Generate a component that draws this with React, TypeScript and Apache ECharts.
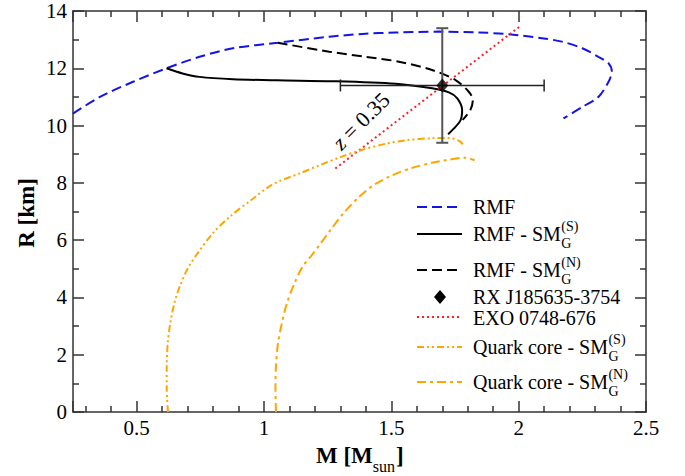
import React, { useEffect, useRef } from 'react';
import * as echarts from 'echarts';

const FONT = 'Liberation Serif';

// M [Msun], R [km]
const rmf = [[0.25, 10.42], [0.356, 11.0], [0.486, 11.53], [0.617, 12.0], [0.747, 12.4], [0.878, 12.7], [1.054, 12.89], [1.256, 13.1], [1.387, 13.2], [1.517, 13.25], [1.687, 13.28], [1.844, 13.25], [1.961, 13.19], [2.091, 13.05], [2.17, 12.93], [2.25, 12.7], [2.313, 12.4], [2.353, 12.17], [2.366, 11.88], [2.353, 11.53], [2.313, 11.0], [2.25, 10.65], [2.176, 10.25]];
const rmfSMS = [[0.617, 12.0], [0.68, 11.82], [0.747, 11.7], [0.878, 11.62], [1.05, 11.58], [1.27, 11.55], [1.517, 11.46], [1.66, 11.3], [1.726, 11.16], [1.759, 10.95], [1.778, 10.54], [1.772, 10.19], [1.746, 9.9], [1.723, 9.7]];
const rmfSMN = [[1.054, 12.89], [1.256, 12.58], [1.4, 12.4], [1.53, 12.23], [1.66, 11.94], [1.752, 11.59], [1.804, 11.18], [1.82, 10.89], [1.81, 10.54], [1.78, 10.2]];
const exo = [[1.28, 8.5], [2.01, 13.5]];
const quarkS = [[0.623, 0.0], [0.618, 0.8], [0.618, 1.6], [0.622, 2.4], [0.632, 3.1], [0.648, 3.8], [0.67, 4.4], [0.7, 5.0], [0.74, 5.55], [0.8, 6.25], [0.87, 6.85], [0.95, 7.4], [1.034, 7.95], [1.14, 8.33], [1.22, 8.62], [1.3, 8.9], [1.38, 9.14], [1.48, 9.37], [1.56, 9.49], [1.66, 9.56], [1.726, 9.57], [1.765, 9.47], [1.785, 9.31]];
const quarkN = [[1.047, 0.0], [1.045, 0.8], [1.047, 1.6], [1.055, 2.4], [1.07, 3.1], [1.09, 3.8], [1.12, 4.5], [1.15, 5.05], [1.19, 5.5], [1.217, 5.82], [1.265, 6.4], [1.315, 6.97], [1.37, 7.48], [1.43, 7.92], [1.5, 8.25], [1.58, 8.52], [1.66, 8.7], [1.713, 8.79], [1.791, 8.88], [1.827, 8.79]];
// RX J185635-3754: mass, radius, mass error, radius error
const rxPoint = [[1.7, 11.4, 0.4, 2.0]];

const BLUE = '#1414e6';
const ORANGE = '#ffa500';
const RED = '#ff2020';
const BLACK = '#000000';

const dashRMF = [10, 5];
const dashN = [10, 5];
const dashDotDot = [7, 3, 2, 3, 2, 3];
const dashDot = [9, 4, 3, 4];
const dotted = [2, 3];

function measure(text: string, size: number, weight = 'normal') {
  const c = document.createElement('canvas').getContext('2d');
  if (!c) return text.length * size * 0.5;
  c.font = `${weight} ${size}px "${FONT}", serif`;
  return c.measureText(text).width;
}

export default function App() {
  const ref = useRef<HTMLDivElement>(null);
  useEffect(() => {
    document.body.style.margin = '0';
    const chart = echarts.init(ref.current!, null, { renderer: 'svg' });

    const lineSeries = (name: string, data: number[][], color: string, type: any, width = 2, smooth: any = 0.3) => ({
      name,
      type: 'line',
      data,
      showSymbol: false,
      smooth,
      lineStyle: { color, width, type },
      z: 2,
    });

    const axisCommon = {
      type: 'value',
      axisLine: { show: true, onZero: false, lineStyle: { color: '#333', width: 1.5 } },
      splitLine: { show: false },
    };
    const tickStyle = { color: '#333', width: 1.5 };

    const legendX1 = 417;
    const legendX2 = 462;
    const textX = 473;
    const legSize = 20;
    const legRows = [207, 234, 270, 297, 318, 347, 382];

    const txt = (x: number, y: number, text: string, size: number, extra: any = {}) => ({
      type: 'text',
      x,
      y,
      rotation: extra.rotation || 0,
      style: {
        text,
        fontSize: size,
        fontFamily: FONT,
        fontWeight: extra.bold ? 'bold' : 'normal',
        fill: '#000',
        verticalAlign: 'middle',
        align: extra.align || 'left',
      },
    });
    const legLine = (y: number, color: string, dash: any) => ({
      type: 'line',
      shape: { x1: legendX1, y1: y, x2: legendX2, y2: y },
      style: { stroke: color, lineWidth: 2, lineDash: dash },
    });
    const supSubLabel = (y: number, main: string, sup: string) => {
      const x = textX + measure(main, legSize) + 0.5;
      return [txt(textX, y, main, legSize), txt(x, y + 9, 'G', 14), txt(x, y - 8, sup, 14)];
    };

    const mW = measure('M [M', 23, 'bold');
    const sW = measure('sun', 16);

    const graphic: any[] = [
      legLine(legRows[0], BLUE, dashRMF),
      txt(textX, legRows[0], 'RMF', legSize),
      legLine(legRows[1], BLACK, 'solid'),
      ...supSubLabel(legRows[1], 'RMF - SM', '(S)'),
      legLine(legRows[2], BLACK, dashN),
      ...supSubLabel(legRows[2], 'RMF - SM', '(N)'),
      {
        type: 'polygon',
        shape: { points: [[440, legRows[3] - 7], [446, legRows[3]], [440, legRows[3] + 7], [434, legRows[3]]] },
        style: { fill: '#000' },
      },
      txt(textX, legRows[3], 'RX J185635-3754', legSize),
      legLine(legRows[4] - 1, RED, dotted),
      txt(textX, legRows[4], 'EXO 0748-676', legSize),
      legLine(legRows[5], ORANGE, dashDotDot),
      ...supSubLabel(legRows[5], 'Quark core - SM', '(S)'),
      legLine(legRows[6], ORANGE, dashDot),
      ...supSubLabel(legRows[6], 'Quark core - SM', '(N)'),
      // axis titles
      txt(316, 455, 'M [M', 23, { bold: true }),
      txt(316 + mW, 466, 'sun', 16),
      txt(316 + mW + sW + 1, 455, ']', 23, { bold: true }),
      txt(26, 213, 'R [km]', 23, { bold: true, rotation: Math.PI / 2, align: 'center' }),
      // redshift annotation
      {
        type: 'text',
        x: 361,
        y: 121,
        rotation: Math.PI / 4,
        style: {
          text: '{i|z} = 0.35',
          fontSize: 22,
          fontFamily: FONT,
          fill: '#000',
          align: 'center',
          verticalAlign: 'middle',
          rich: { i: { fontStyle: 'italic', fontSize: 22, fontFamily: FONT } },
        },
      },
    ];

    chart.setOption({
      animation: false,
      backgroundColor: '#fff',
      textStyle: { fontFamily: FONT },
      grid: { left: 73, right: 39, top: 11, bottom: 64 },
      xAxis: [
        {
          ...axisCommon,
          position: 'bottom',
          min: 0.25,
          max: 2.5,
          splitNumber: 5,
          axisTick: { show: true, inside: true, length: 11, lineStyle: tickStyle },
          minorTick: { show: true, splitNumber: 5, length: 6, lineStyle: tickStyle },
          axisLabel: {
            color: '#000',
            fontSize: 21,
            fontFamily: FONT,
            margin: 5,
            formatter: (v: number) => (Math.abs(v - 0.25) < 1e-6 ? '' : String(v)),
          },
        },
        {
          ...axisCommon,
          position: 'top',
          min: 0.25,
          max: 2.5,
          splitNumber: 5,
          axisTick: { show: true, inside: true, length: 11, lineStyle: tickStyle },
          minorTick: { show: true, splitNumber: 5, length: 6, lineStyle: tickStyle },
          axisLabel: { show: false },
        },
      ],
      yAxis: [
        {
          ...axisCommon,
          position: 'left',
          min: 0,
          max: 14,
          interval: 2,
          axisTick: { show: true, inside: true, length: 11, lineStyle: tickStyle },
          minorTick: { show: true, splitNumber: 2, length: 6, lineStyle: tickStyle },
          axisLabel: { color: '#000', fontSize: 21, fontFamily: FONT, margin: 6 },
        },
        {
          ...axisCommon,
          position: 'right',
          min: 0,
          max: 14,
          interval: 2,
          axisTick: { show: true, inside: true, length: 11, lineStyle: tickStyle },
          minorTick: { show: true, splitNumber: 2, length: 6, lineStyle: tickStyle },
          axisLabel: { show: false },
        },
      ],
      series: [
        lineSeries('RMF', rmf, BLUE, dashRMF),
        lineSeries('RMF - SM_G^(S)', rmfSMS, BLACK, 'solid'),
        lineSeries('RMF - SM_G^(N)', rmfSMN, BLACK, dashN),
        lineSeries('EXO 0748-676', exo, RED, dotted, 2, false),
        lineSeries('Quark core - SM_G^(S)', quarkS, ORANGE, dashDotDot),
        lineSeries('Quark core - SM_G^(N)', quarkN, ORANGE, dashDot),
        {
          name: 'RX error',
          type: 'custom',
          data: rxPoint,
          z: 4,
          encode: { x: 0, y: 1 },
          renderItem: (params: any, api: any) => {
            const x = api.value(0);
            const y = api.value(1);
            const xe = api.value(2);
            const ye = api.value(3);
            const l = api.coord([x - xe, y]);
            const r = api.coord([x + xe, y]);
            const t = api.coord([x, y + ye]);
            const b = api.coord([x, y - ye]);
            const cap = 6;
            const vs = { stroke: '#555', lineWidth: 2 };
            const hs = { stroke: '#222', lineWidth: 1.5 };
            return {
              type: 'group',
              children: [
                { type: 'line', shape: { x1: t[0], y1: t[1], x2: b[0], y2: b[1] }, style: vs },
                { type: 'line', shape: { x1: t[0] - cap, y1: t[1], x2: t[0] + cap, y2: t[1] }, style: vs },
                { type: 'line', shape: { x1: b[0] - cap, y1: b[1], x2: b[0] + cap, y2: b[1] }, style: vs },
                { type: 'line', shape: { x1: l[0], y1: l[1], x2: r[0], y2: r[1] }, style: hs },
                { type: 'line', shape: { x1: l[0], y1: l[1] - cap, x2: l[0], y2: l[1] + cap }, style: hs },
                { type: 'line', shape: { x1: r[0], y1: r[1] - cap, x2: r[0], y2: r[1] + cap }, style: hs },
              ],
            };
          },
        },
        {
          name: 'RX J185635-3754',
          type: 'scatter',
          data: rxPoint.map((p) => [p[0], p[1]]),
          symbol: 'diamond',
          symbolSize: [12, 14],
          itemStyle: { color: '#000' },
          z: 5,
        },
      ],
      graphic,
    });
    return () => chart.dispose();
  }, []);
  return <div ref={ref} style={{ width: 685, height: 476 }} />;
}
